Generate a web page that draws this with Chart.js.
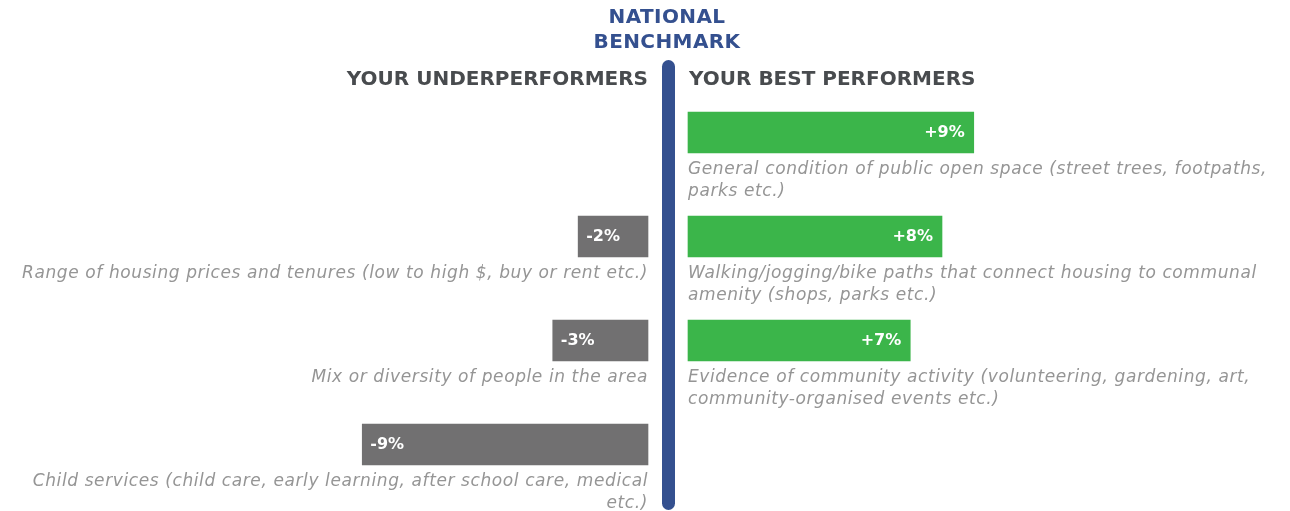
<!DOCTYPE html>
<html>
<head>
<meta charset="utf-8">
<script src="https://cdn.jsdelivr.net/npm/chart.js@4"></script>
<style>
  html, body { margin: 0; padding: 0; background: #ffffff; }
  #wrap { position: relative; width: 1290px; height: 511px; }
</style>
</head>
<body>
<div id="wrap"><canvas id="benchChart"></canvas></div>
<script>
// rows, top to bottom
const rows = ['r1', 'r2', 'r3', 'r4'];

const bestValues = [9, 8, 7, null];
const bestLabels = [
  ['General condition of public open space (street trees, footpaths,', 'parks etc.)'],
  ['Walking/jogging/bike paths that connect housing to communal', 'amenity (shops, parks etc.)'],
  ['Evidence of community activity (volunteering, gardening, art,', 'community-organised events etc.)'],
  null
];

const underValues = [null, -2.2, -3, -9];
const underLabels = [
  null,
  ['Range of housing prices and tenures (low to high $, buy or rent etc.)'],
  ['Mix or diversity of people in the area'],
  ['Child services (child care, early learning, after school care, medical', 'etc.)']
];

const titleLines = ['NATIONAL', 'BENCHMARK'];
const leftHeading = 'YOUR UNDERPERFORMERS';
const rightHeading = 'YOUR BEST PERFORMERS';

const GREEN = '#3bb54a';
const GREY = '#717071';
const BLUE = '#34508f';
const DARK = '#484b4e';
const TEXT_GREY = '#959595';

const PX_PER_PCT = 31.75;
const W = 1290;
const LEFT_ZERO = 648;
const RIGHT_ZERO = 688;

function fmt(v) {
  const n = Math.round(Math.abs(v));
  return (v < 0 ? '-' : '+') + n + '%';
}

const labelPlugin = {
  id: 'labelPlugin',
  beforeDatasetsDraw(chart) {
    const ctx = chart.ctx;
    // benchmark line
    ctx.save();
    ctx.strokeStyle = BLUE;
    ctx.lineWidth = 13;
    ctx.lineCap = 'round';
    ctx.beginPath();
    ctx.moveTo(668.5, 66.5);
    ctx.lineTo(668.5, 503.5);
    ctx.stroke();
    ctx.restore();
  },
  afterDatasetsDraw(chart) {
    const ctx = chart.ctx;
    ctx.save();

    // title
    ctx.fillStyle = BLUE;
    ctx.font = 'bold 20px "DejaVu Sans"';
    ctx.letterSpacing = '0.4px';
    ctx.textAlign = 'center';
    ctx.textBaseline = 'middle';
    ctx.fillText(titleLines[0], 667, 18);
    ctx.fillText(titleLines[1], 667, 43);

    // headings
    ctx.fillStyle = DARK;
    ctx.font = 'bold 20px "DejaVu Sans"';
    ctx.letterSpacing = '0px';
    ctx.textAlign = 'right';
    ctx.fillText(leftHeading, 648, 80);
    ctx.textAlign = 'left';
    ctx.fillText(rightHeading, 689, 80);

    // value labels and descriptions
    const sides = [
      { meta: chart.getDatasetMeta(0), values: underValues, labels: underLabels, left: true },
      { meta: chart.getDatasetMeta(1), values: bestValues, labels: bestLabels, left: false }
    ];
    sides.forEach(side => {
      side.meta.data.forEach((bar, i) => {
        const v = side.values[i];
        if (v === null || v === undefined) return;
        const bottom = bar.y + bar.height / 2;

        ctx.fillStyle = '#ffffff';
        ctx.font = 'bold 16px "DejaVu Sans"';
        ctx.letterSpacing = '0px';
        ctx.textBaseline = 'middle';
        if (side.left) {
          ctx.textAlign = 'left';
          ctx.fillText(fmt(v), bar.x + 8, bar.y);
        } else {
          ctx.textAlign = 'right';
          ctx.fillText(fmt(v), bar.x - 9, bar.y);
        }

        const lines = side.labels[i] || [];
        ctx.fillStyle = TEXT_GREY;
        ctx.font = 'italic 200 17px "DejaVu Sans"';
        ctx.letterSpacing = '0.6px';
        lines.forEach((line, k) => {
          const y = bottom + 17 + k * 22;
          if (side.left) {
            ctx.textAlign = 'right';
            ctx.fillText(line, LEFT_ZERO, y);
          } else {
            ctx.textAlign = 'left';
            ctx.fillText(line, RIGHT_ZERO, y);
          }
        });
      });
    });
    ctx.restore();
  }
};

const ctx = document.getElementById('benchChart');

new Chart(ctx, {
  type: 'bar',
  data: {
    labels: rows,
    datasets: [
      {
        label: 'underperformers',
        data: underValues,
        xAxisID: 'xl',
        backgroundColor: GREY,
        barThickness: 41,
        grouped: false
      },
      {
        label: 'best performers',
        data: bestValues,
        xAxisID: 'xr',
        backgroundColor: GREEN,
        barThickness: 41,
        grouped: false
      }
    ]
  },
  options: {
    indexAxis: 'y',
    responsive: true,
    maintainAspectRatio: false,
    animation: false,
    layout: {
      padding: { top: 80.5, bottom: 14.5, left: 0, right: 0 }
    },
    plugins: {
      legend: { display: false },
      tooltip: { enabled: false }
    },
    scales: {
      xl: {
        type: 'linear',
        display: false,
        min: -LEFT_ZERO / PX_PER_PCT,
        max: (W - LEFT_ZERO) / PX_PER_PCT
      },
      xr: {
        type: 'linear',
        display: false,
        min: -RIGHT_ZERO / PX_PER_PCT,
        max: (W - RIGHT_ZERO) / PX_PER_PCT
      },
      y: {
        display: false
      }
    }
  },
  plugins: [labelPlugin]
});
</script>
</body>
</html>
